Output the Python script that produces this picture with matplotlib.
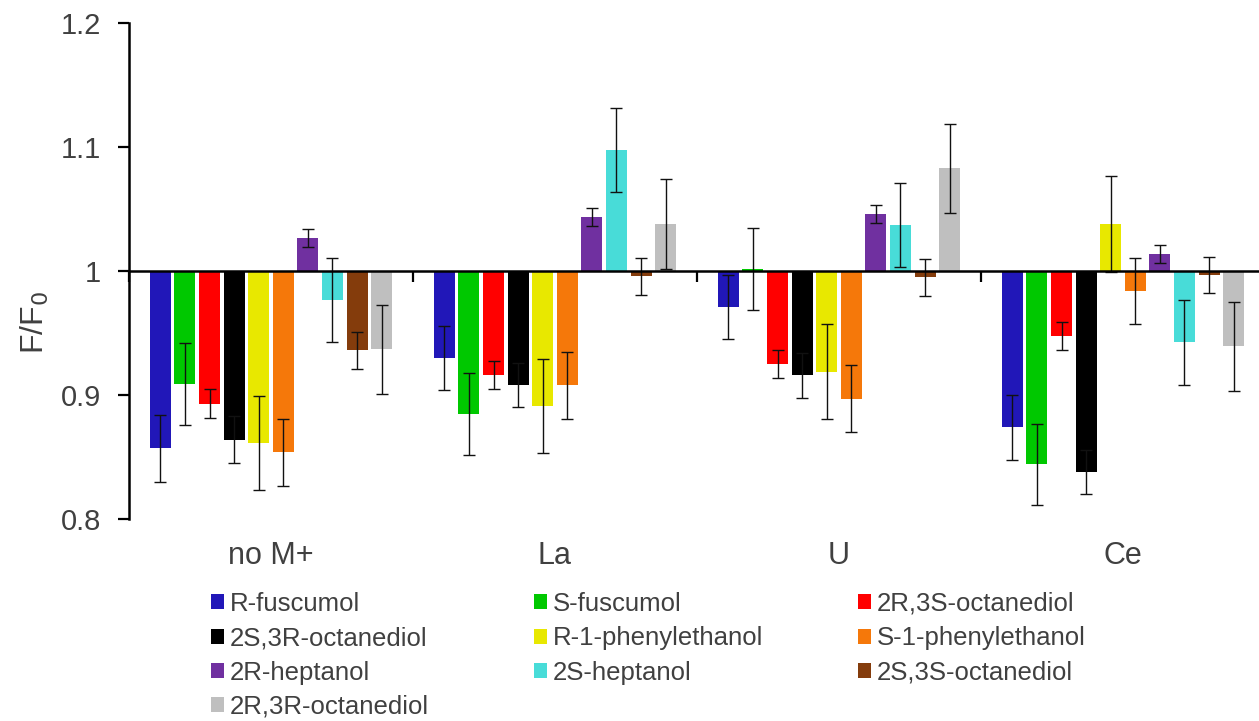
import matplotlib
matplotlib.use("Agg")
import matplotlib.pyplot as plt
import numpy as np

plt.rcParams["font.family"] = ["Liberation Sans", "DejaVu Sans"]

# groups (metal ions) and compounds
groups = ["no M+", "La", "U", "Ce"]
compounds = ["R-fuscumol", "S-fuscumol", "2R,3S-octanediol", "2S,3R-octanediol",
             "R-1-phenylethanol", "S-1-phenylethanol", "2R-heptanol", "2S-heptanol",
             "2S,3S-octanediol", "2R,3R-octanediol"]
colors = ["#2117b8", "#00c800", "#ff0000", "#000000", "#e8e800",
          "#f5780a", "#7030a0", "#48dcd8", "#843c0c", "#bfbfbf"]

r_fuscumol = [0.857, 0.930, 0.971, 0.874]
s_fuscumol = [0.909, 0.885, 1.002, 0.844]
oct_2r3s = [0.893, 0.916, 0.925, 0.948]
oct_2s3r = [0.864, 0.908, 0.916, 0.838]
r_phenyl = [0.861, 0.891, 0.919, 1.038]
s_phenyl = [0.854, 0.908, 0.897, 0.984]
hept_2r = [1.027, 1.0435, 1.046, 1.014]
hept_2s = [0.977, 1.098, 1.037, 0.9425]
oct_2s3s = [0.936, 0.996, 0.995, 0.997]
oct_2r3r = [0.937, 1.038, 1.083, 0.9395]

r_fuscumol_err = [0.027, 0.026, 0.026, 0.026]
s_fuscumol_err = [0.033, 0.033, 0.033, 0.033]
oct_2r3s_err = [0.0115, 0.0113, 0.0113, 0.0113]
oct_2s3r_err = [0.019, 0.018, 0.018, 0.018]
r_phenyl_err = [0.038, 0.038, 0.0385, 0.0385]
s_phenyl_err = [0.027, 0.027, 0.027, 0.027]
hept_2r_err = [0.0073, 0.0074, 0.0075, 0.0073]
hept_2s_err = [0.034, 0.034, 0.034, 0.034]
oct_2s3s_err = [0.015, 0.015, 0.015, 0.0148]
oct_2r3r_err = [0.036, 0.036, 0.036, 0.036]

values = [r_fuscumol, s_fuscumol, oct_2r3s, oct_2s3r, r_phenyl,
          s_phenyl, hept_2r, hept_2s, oct_2s3s, oct_2r3r]
errors = [r_fuscumol_err, s_fuscumol_err, oct_2r3s_err, oct_2s3r_err, r_phenyl_err,
          s_phenyl_err, hept_2r_err, hept_2s_err, oct_2s3s_err, oct_2r3r_err]

TEXT = "#404040"
PITCH = 0.0866
WIDTH = 0.0745
BASE = 1.0

W, H = 1259, 721
fig = plt.figure(figsize=(W / 100, H / 100), dpi=100)
ax = fig.add_axes([129 / W, 1 - 519 / H, (1265 - 129) / W, (519 - 23.3) / H])

x = np.arange(len(groups))
handles = []
for k, (vals, errs, c) in enumerate(zip(values, errors, colors)):
    xs = x + (k - 4.5) * PITCH
    v = np.asarray(vals)
    b = ax.bar(xs, v - BASE, bottom=BASE, width=WIDTH, color=c, label=compounds[k], zorder=2)
    ax.errorbar(xs, v, yerr=errs, fmt="none", ecolor="#111111", elinewidth=1.0,
                capsize=4.5, capthick=1.0, zorder=3)
    handles.append(b)

ax.set_xlim(-0.5, len(groups) - 0.5)
ax.set_ylim(0.8, 1.2)
ax.set_yticks([0.8, 0.9, 1.0, 1.1, 1.2])
ax.set_yticklabels(["0.8", "0.9", "1", "1.1", "1.2"])
ax.set_xticks(np.arange(len(groups) + 1) - 0.5)
ax.set_xticklabels([])

for s in ("top", "right"):
    ax.spines[s].set_visible(False)
ax.spines["bottom"].set_position(("data", BASE))
ax.spines["bottom"].set_linewidth(1.8)
ax.spines["bottom"].set_zorder(4)
ax.spines["left"].set_linewidth(1.8)
ax.tick_params(axis="y", direction="out", length=8, width=1.6, pad=12,
               labelsize=21, labelcolor=TEXT)
ax.tick_params(axis="x", direction="out", length=8, width=1.6)

for i, g in enumerate(groups):
    ax.annotate(g, (i, 0.8), xytext=(0, -37), textcoords="offset pixels",
                ha="center", va="center", fontsize=22, color=TEXT, annotation_clip=False)

fig.text(35 / W, 1 - 322 / H, "F/F$_0$", rotation=90, ha="center", va="center",
         fontsize=23, color=TEXT)

# legend: three columns, row-major order as in the reference
col_x = [211 / W, 534 / W, 858 / W]
for c in range(3):
    idx = list(range(c, len(compounds), 3))
    fig.legend([handles[i] for i in idx], [compounds[i] for i in idx],
               loc="upper left", bbox_to_anchor=(col_x[c], 1 - 592 / H),
               frameon=False, fontsize=18.5, labelcolor=TEXT,
               handlelength=0.52, handleheight=0.52, handletextpad=0.22,
               labelspacing=0.40, borderpad=0, borderaxespad=0)

fig.savefig("out.png", dpi=100)
